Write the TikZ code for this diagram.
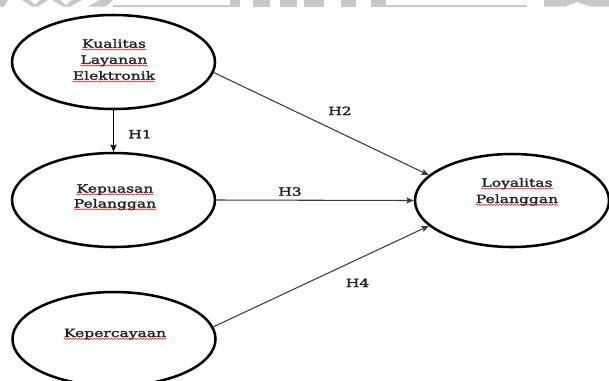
\documentclass[tikz,border=0pt]{standalone}
\usepackage{fontspec}
\setmainfont[FakeStretch=1.37,FakeBold=1.8]{DejaVu Serif}
\usetikzlibrary{shapes.geometric,arrows.meta,decorations.pathmorphing}
\definecolor{wm}{RGB}{200,200,200}
\definecolor{txt}{RGB}{30,30,38}
\definecolor{ln}{RGB}{60,60,60}
\tikzset{
  ell/.style={ellipse,draw=black,line width=1.9pt,inner sep=0pt,minimum width=152.25pt,minimum height=70.5pt},
  wd/.style={font=\fontsize{8.5pt}{12.4pt}\selectfont,text=txt,inner sep=0pt,anchor=base},
  hl/.style={font=\fontsize{8.5pt}{12.4pt}\selectfont,text=txt,inner sep=0pt,anchor=base},
  sq/.style={draw=red!85!black,line width=0.35pt,decorate,decoration={snake,amplitude=0.45pt,segment length=2.2pt}},
  arr/.style={draw=ln,line width=0.8pt,-{Stealth[length=5.5pt,width=4.6pt,inset=1pt]}},
  arrb/.style={draw=black,line width=1pt,-{Stealth[length=5.5pt,width=4.6pt,inset=1pt]}}
}
\newcommand\squig[1]{\draw[sq] ([yshift=-1.4pt]#1.base west) -- ([yshift=-1.4pt]#1.base east);}
\begin{document}
\begin{tikzpicture}[x=0.75pt,y=-0.75pt]
\useasboundingbox (0,0) rectangle (609,380);
\clip (0,0) rectangle (609,380);
\fill[white] (0,0) rectangle (609,380);
% watermark fragment at the top
\begin{scope}[fill=wm]
\fill (0,0) -- (8,0) -- (4,6.5) -- (0,6.5) -- cycle;
\fill (22,0) -- (30,0) -- (35,5) -- (40,0) -- (48,0) -- (38,6.5) -- (32,6.5) -- cycle;
\fill (52,0) -- (60,0) -- (66,5) -- (72,0) -- (82,0) -- (70,6.5) -- (63,6.5) -- cycle;
\fill (100,0) -- (113,0) -- (106,6.5) -- (88,6.5) -- cycle;
\fill (113,5) rectangle (230,6.5);
\fill (230,0) rectangle (240,6.5);
\fill (253,0) rectangle (270,6.5);
\fill (280,0) rectangle (297,6.5);
\fill (304,0) rectangle (324,6.5);
\fill (341,0) rectangle (356,6.5);
\fill (371,0) rectangle (386,6.5);
\fill (386,5) rectangle (527,6.5);
\fill (544,0) -- (609,0) -- (609,6.5) -- (590,6.5) -- (577,2) -- (565,6.5) -- (544,6.5) -- cycle;
\end{scope}
% ellipses
\node[ell] (k1) at (113.5,62) {};
\node[ell] (k2) at (113.5,200) {};
\node[ell] (k3) at (114,339) {};
\node[ell,minimum width=145.5pt,minimum height=69.75pt] (loy) at (512,200.5) {};
% texts
\node[wd] (t1) at (114,47.7) {Kualitas};
\node[wd] (t2) at (114,63.7) {Layanan};
\node[wd] (t3) at (114,79.7) {Elektronik};
\node[wd] (t4) at (115,192.5) {Kepuasan};
\node[wd] (t5) at (115,207.5) {Pelanggan};
\node[wd] (t6) at (115,337) {Kepercayaan};
\node[wd] (t7) at (517,186.7) {Loyalitas};
\node[wd] (t8) at (517,203) {Pelanggan};
\squig{t1}\squig{t2}\squig{t3}\squig{t4}\squig{t5}\squig{t6}\squig{t7}\squig{t8}
% connectors
\draw[arrb] (k1.south) -- (k2.north);
\draw[arr] (k1.-6) -- (loy.163);
\draw[arr] (k2.east) -- (loy.west);
\draw[arr] (k3.7) -- (loy.197);
% labels
\node[hl] (h1) at (140,138.3) {H1};
\node[hl] (h2) at (340,115) {H2};
\node[hl] (h3) at (290,195.7) {H3};
\node[hl] (h4) at (357.5,287) {H4};
\end{tikzpicture}
\end{document}
